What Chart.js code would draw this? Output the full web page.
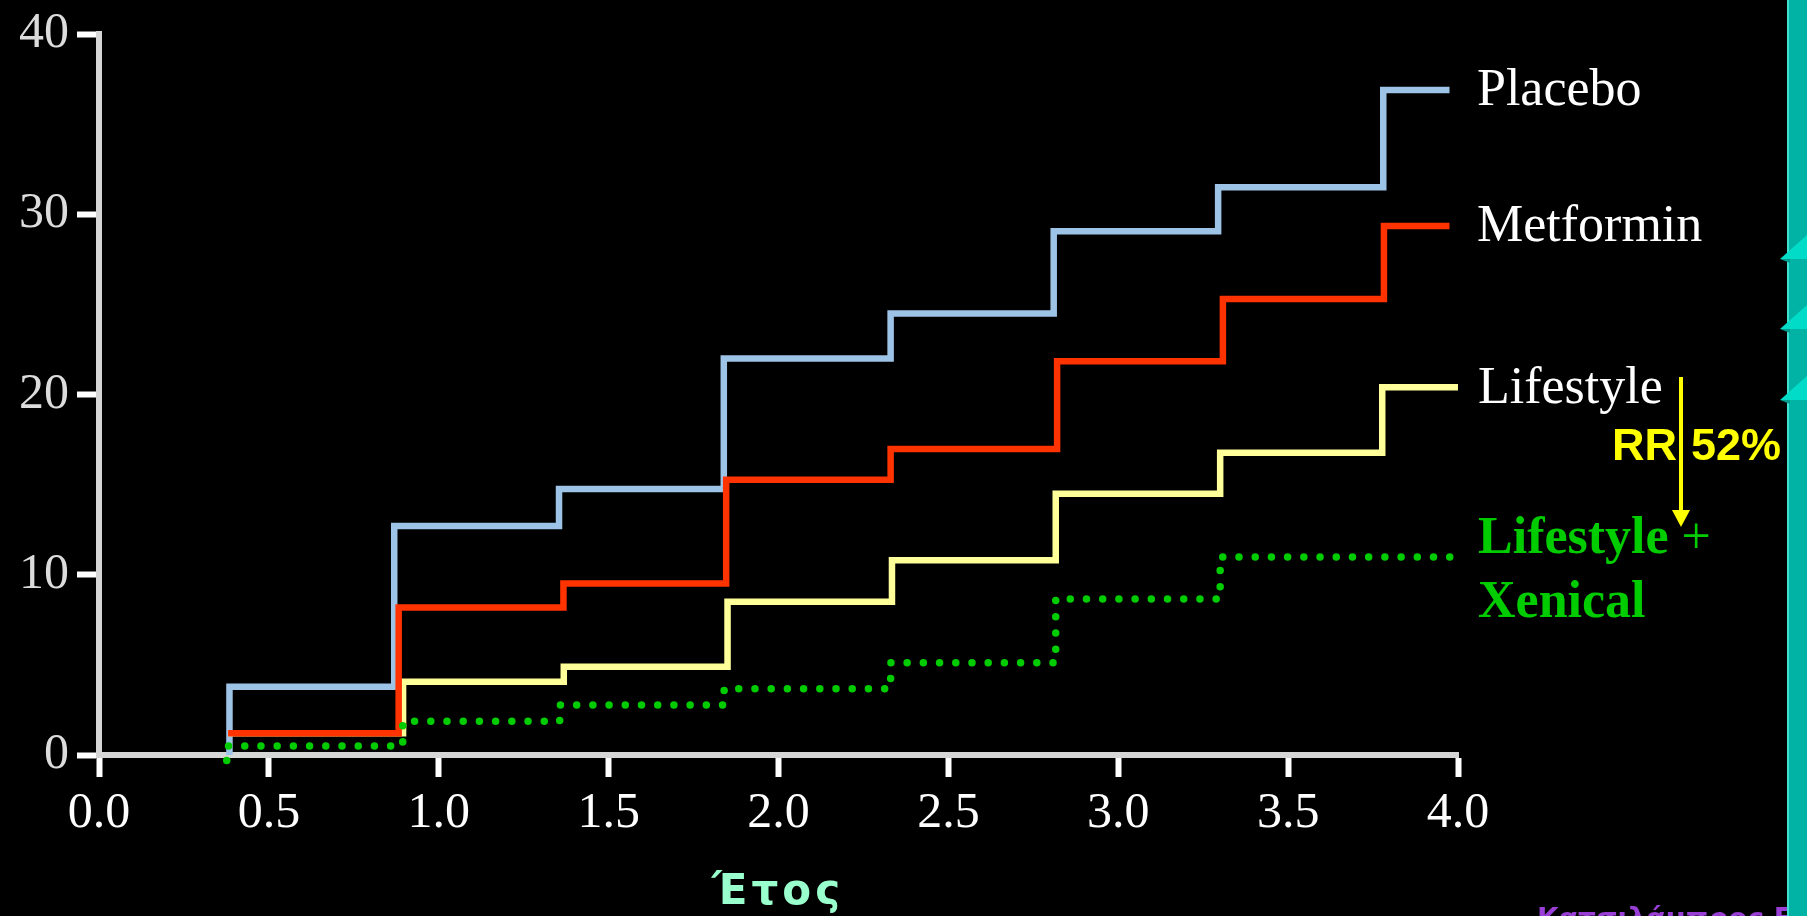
<!DOCTYPE html>
<html>
<head>
<meta charset="utf-8">
<script src="https://cdn.jsdelivr.net/npm/chart.js@4.4.1/dist/chart.umd.min.js"></script>
<style>
  html, body { margin: 0; padding: 0; background: #000; overflow: hidden; }
  canvas { display: block; }
</style>
</head>
<body>
<canvas id="chart" width="1807" height="916"></canvas>
<script>
// step curves: x = year where a step starts, y = cumulative incidence (%)
const placeboYears   = [0.384, 0.384, 0.869, 1.354, 1.839, 2.33, 2.81, 3.294, 3.78, 3.975];
const placebo        = [0, 3.78, 12.7, 14.76, 22.0, 24.5, 29.05, 31.5, 36.9, 36.9];
const metforminYears = [0.38, 0.882, 1.367, 1.846, 2.33, 2.82, 3.308, 3.782, 3.975];
const metformin      = [1.2, 8.18, 9.52, 15.27, 16.97, 21.85, 25.3, 29.35, 29.35];
const lifestyleYears = [0.38, 0.895, 1.368, 1.85, 2.334, 2.816, 3.30, 3.777, 4.0];
const lifestyle      = [1.2, 4.06, 4.89, 8.5, 10.8, 14.5, 16.77, 20.4, 20.4];
const xenicalYears   = [0.376, 0.376, 0.894, 1.356, 1.84, 2.33, 2.816, 3.30, 3.985];
const xenical        = [-0.3, 0.5, 1.87, 2.77, 3.67, 5.12, 8.66, 10.99, 10.99];

const seriesNames = ['Placebo', 'Metformin', 'Lifestyle', 'Lifestyle', 'Xenical'];
const xTickStep = 0.5;
const yTickStep = 10;

const toPoints = (xs, ys) => xs.map((x, i) => ({ x, y: ys[i] }));

const serif = 'Liberation Serif, Times New Roman, serif';
const sans = 'Liberation Sans, Arial, sans-serif';

const overlay = {
    id: 'overlay',
    beforeDraw(chart) {
        const { ctx, width, height } = chart;
        ctx.save();
        ctx.fillStyle = '#000';
        ctx.fillRect(0, 0, width, height);
        ctx.restore();
    },
    afterDraw(chart) {
        const { ctx } = chart;
        const ys = chart.scales.y;
        ctx.save();

        // series names at the end of each curve
        ctx.textBaseline = 'alphabetic';
        ctx.fillStyle = '#fff';
        ctx.font = '52px ' + serif;
        ctx.fillText(seriesNames[0], 1477, ys.getPixelForValue(placebo[placebo.length - 1]) + 15);
        ctx.fillText(seriesNames[1], 1477, ys.getPixelForValue(metformin[metformin.length - 1]) + 15);
        ctx.fillText(seriesNames[2], 1478, ys.getPixelForValue(lifestyle[lifestyle.length - 1]) + 16);

        ctx.fillStyle = '#00CC00';
        ctx.font = 'bold 52px ' + serif;
        ctx.fillText(seriesNames[3], 1478, 553);
        const w = ctx.measureText(seriesNames[3]).width;
        ctx.fillText(seriesNames[4], 1478, 617);
        ctx.font = '52px ' + serif;
        ctx.fillText(' +', 1478 + w, 553);

        // RR arrow
        ctx.strokeStyle = '#FFFF00';
        ctx.fillStyle = '#FFFF00';
        ctx.lineWidth = 4;
        ctx.beginPath();
        ctx.moveTo(1681, 377);
        ctx.lineTo(1681, 512);
        ctx.stroke();
        ctx.beginPath();
        ctx.moveTo(1672, 510);
        ctx.lineTo(1690, 510);
        ctx.lineTo(1681, 527);
        ctx.closePath();
        ctx.fill();
        ctx.font = 'bold 45px ' + sans;
        ctx.fillText('RR', 1612, 460);
        ctx.fillText('52%', 1691, 460);

        // x axis title
        ctx.fillStyle = '#99FFCC';
        ctx.font = 'bold 42px DejaVu Sans, Verdana, sans-serif';
        ctx.letterSpacing = '4px';
        ctx.fillText('Έτος', 712, 904);
        ctx.letterSpacing = '0px';

        // clipped title at top
        ctx.font = 'bold 40px ' + sans;
        ctx.fillText('Αθροιστική επίπτωση ΣΔ (%)', 130, -8);

        // author note, clipped at bottom
        ctx.fillStyle = '#9A3FD6';
        ctx.font = 'bold 28px DejaVu Sans, Verdana, sans-serif';
        ctx.fillText('Κατσιλάμπρος Ε.', 1537, 928);

        // slide side bar
        ctx.fillStyle = '#00B3A4';
        ctx.fillRect(1787, 0, 20, 916);
        ctx.fillStyle = '#3FE0D0';
        ctx.fillRect(1787, 0, 2, 916);
        [259, 329, 400].forEach(ty => {
            ctx.fillStyle = '#00DCC8';
            ctx.beginPath();
            ctx.moveTo(1780, ty);
            ctx.lineTo(1807, ty - 24);
            ctx.lineTo(1807, ty);
            ctx.closePath();
            ctx.fill();
            ctx.fillStyle = '#009C8E';
            ctx.beginPath();
            ctx.moveTo(1780, ty);
            ctx.lineTo(1790, ty + 4);
            ctx.lineTo(1790, ty);
            ctx.closePath();
            ctx.fill();
        });
        ctx.restore();
    }
};

const ctx = document.getElementById('chart').getContext('2d');
new Chart(ctx, {
    type: 'line',
    data: {
        datasets: [
            { label: 'Metformin', data: toPoints(metforminYears, metformin), borderColor: '#FF3300', order: 1 },
            { label: 'Lifestyle', data: toPoints(lifestyleYears, lifestyle), borderColor: '#FFFF99', order: 2 },
            { label: 'Placebo', data: toPoints(placeboYears, placebo), borderColor: '#9DC3E6', order: 3 },
            {
                label: 'Lifestyle + Xenical', data: toPoints(xenicalYears, xenical), borderColor: '#00CC00',
                borderWidth: 7.5, borderDash: [0.01, 16.2], borderCapStyle: 'round', order: 0
            }
        ]
    },
    options: {
        responsive: false,
        animation: false,
        devicePixelRatio: 1,
        layout: { padding: { top: 34, right: 349, left: 0, bottom: 0 } },
        plugins: { legend: { display: false }, tooltip: { enabled: false } },
        elements: {
            line: { borderWidth: 6.5, stepped: true, fill: false, borderJoinStyle: 'miter', tension: 0 },
            point: { radius: 0 }
        },
        datasets: { line: { clip: 12 } },
        scales: {
            x: {
                type: 'linear', min: 0, max: 4,
                afterFit: s => { s.height = 161; },
                ticks: {
                    stepSize: xTickStep, autoSkip: false, maxRotation: 0,
                    callback: v => v.toFixed(1),
                    color: '#fff', font: { family: serif, size: 50, lineHeight: 1 }, padding: 12
                },
                grid: { drawOnChartArea: false, tickLength: 22, tickWidth: 6, tickColor: '#fff' },
                border: { color: '#D6D6D6', width: 6 }
            },
            y: {
                min: 0, max: 40,
                afterFit: s => { s.width = 99; },
                ticks: {
                    stepSize: yTickStep,
                    color: '#DCDCDC', font: { family: serif, size: 50, lineHeight: 1 }, padding: 8
                },
                grid: { drawOnChartArea: false, tickLength: 22, tickWidth: 6, tickColor: '#fff' },
                border: { color: '#D6D6D6', width: 6 }
            }
        }
    },
    plugins: [overlay]
});
</script>
</body>
</html>
